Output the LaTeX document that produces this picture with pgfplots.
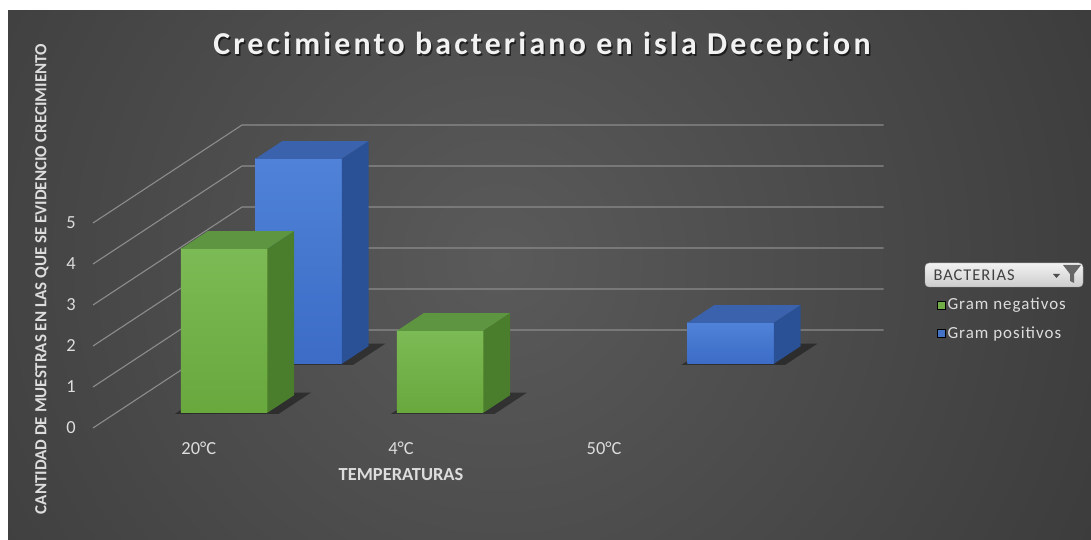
\documentclass[border=0pt]{standalone}
\usepackage{pgfplots}
\pgfplotsset{compat=1.18}
\usepackage{fontspec}
\setmainfont{Carlito}
\newfontfamily\titlefont[LetterSpace=10]{Carlito}
\newfontfamily\legfont[LetterSpace=6]{Carlito}
\definecolor{bgin}{HTML}{5A5A5A}
\definecolor{bgout}{HTML}{2A2A2A}
\definecolor{gridc}{HTML}{8C8C8C}
\definecolor{txtc}{HTML}{DDDDDD}
\definecolor{gfront1}{HTML}{7CBA55}
\definecolor{gfront2}{HTML}{68A83D}
\definecolor{gtop}{HTML}{5E9540}
\definecolor{gside}{HTML}{4B7E2C}
\definecolor{bfront1}{HTML}{4F82D8}
\definecolor{bfront2}{HTML}{3C6CC6}
\definecolor{btop}{HTML}{3B63AD}
\definecolor{bside}{HTML}{2A5096}
\definecolor{gleg}{HTML}{70AD47}
\definecolor{bleg}{HTML}{4472C4}
\begin{document}
\begin{tikzpicture}
\path[use as bounding box] (0,0) rectangle (1091bp,540bp);
\fill[white] (0,0) rectangle (1091bp,540bp);
\begin{scope}
\clip (8bp,0) rectangle (1091bp,529bp);
\fill[bgout] (8bp,0) rectangle (1091bp,529bp);
\shade[inner color=bgin, outer color=bgout] (500bp,280bp) circle (1050bp);
\end{scope}
% title
\node[text=black, opacity=0.6, font=\titlefont\bfseries\fontsize{32}{36}\selectfont] at (543.5bp,492.5bp) {Crecimiento bacteriano en isla Decepcion};
\node[text=white!95!black, font=\titlefont\bfseries\fontsize{32}{36}\selectfont] at (542bp,494bp) {Crecimiento bacteriano en isla Decepcion};
% y label
\node[rotate=90, text=txtc, font=\bfseries\fontsize{17}{20}\selectfont] at (42bp,261bp) {CANTIDAD DE MUESTRAS EN LAS QUE SE EVIDENCIO CRECIMIENTO};
\begin{axis}[
  at={(93bp,112bp)}, anchor=origin,
  x={(216bp,0bp)}, y={(149bp,98bp)}, z={(0bp,41bp)},
  xmin=0, xmax=3, ymin=0, ymax=1, zmin=0, zmax=5,
  hide axis, clip=false,
  legend style={at={(axis cs:3.907,0,3.22)}, anchor=north west, draw=none, fill=none,
    text=txtc, font=\legfont\fontsize{17}{19}\selectfont, row sep=11bp, inner sep=0pt,
    /tikz/every even column/.append style={column sep=4bp}},
  legend cell align=left,
  legend image code/.code={\fill[#1] (0bp,-4bp) rectangle (8bp,4bp);},
]
% gridlines: side wall and back wall
\addplot3[gridc, line width=1.1bp, forget plot] coordinates {(0,0,0) (0,1,0) (2.97,1,0)};
\addplot3[gridc, line width=1.1bp, forget plot] coordinates {(0,0,1) (0,1,1) (2.97,1,1)};
\addplot3[gridc, line width=1.1bp, forget plot] coordinates {(0,0,2) (0,1,2) (2.97,1,2)};
\addplot3[gridc, line width=1.1bp, forget plot] coordinates {(0,0,3) (0,1,3) (2.97,1,3)};
\addplot3[gridc, line width=1.1bp, forget plot] coordinates {(0,0,4) (0,1,4) (2.97,1,4)};
\addplot3[gridc, line width=1.1bp, forget plot] coordinates {(0,0,5) (0,1,5) (2.97,1,5)};
% ---- back row: Gram positivos (20C = 5, 4C = 0, 50C = 1)
\addplot3[draw=none, fill=black, fill opacity=0.4, forget plot] coordinates {(0.28,0.645,0) (0.76,0.645,0) (0.76,0.86,0) (0.28,0.86,0)} -- cycle;
\addplot3[draw=none, fill=black, fill opacity=0.4, forget plot] coordinates {(2.28,0.645,0) (2.76,0.645,0) (2.76,0.86,0) (2.28,0.86,0)} -- cycle;
% bar 20C, value 5
\addplot3[draw=none, top color=bfront1, bottom color=bfront2, forget plot] coordinates {(0.3,0.655,0) (0.7,0.655,0) (0.7,0.655,5) (0.3,0.655,5)} -- cycle;
\addplot3[draw=none, fill=btop, forget plot] coordinates {(0.3,0.655,5) (0.7,0.655,5) (0.7,0.835,5) (0.3,0.835,5)} -- cycle;
\addplot3[draw=none, fill=bside, forget plot] coordinates {(0.7,0.655,0) (0.7,0.835,0) (0.7,0.835,5) (0.7,0.655,5)} -- cycle;
% bar 50C, value 1
\addplot3[draw=none, top color=bfront1, bottom color=bfront2, forget plot] coordinates {(2.3,0.655,0) (2.7,0.655,0) (2.7,0.655,1) (2.3,0.655,1)} -- cycle;
\addplot3[draw=none, fill=btop, forget plot] coordinates {(2.3,0.655,1) (2.7,0.655,1) (2.7,0.835,1) (2.3,0.835,1)} -- cycle;
\addplot3[draw=none, fill=bside, forget plot] coordinates {(2.7,0.655,0) (2.7,0.835,0) (2.7,0.835,1) (2.7,0.655,1)} -- cycle;
% ---- front row: Gram negativos (20C = 4, 4C = 2, 50C = 0)
\addplot3[draw=none, fill=black, fill opacity=0.4, forget plot] coordinates {(0.28,0.145,0) (0.76,0.145,0) (0.76,0.36,0) (0.28,0.36,0)} -- cycle;
\addplot3[draw=none, fill=black, fill opacity=0.4, forget plot] coordinates {(1.28,0.145,0) (1.76,0.145,0) (1.76,0.36,0) (1.28,0.36,0)} -- cycle;
% bar 20C, value 4
\addplot3[draw=none, top color=gfront1, bottom color=gfront2, forget plot] coordinates {(0.3,0.155,0) (0.7,0.155,0) (0.7,0.155,4) (0.3,0.155,4)} -- cycle;
\addplot3[draw=none, fill=gtop, forget plot] coordinates {(0.3,0.155,4) (0.7,0.155,4) (0.7,0.335,4) (0.3,0.335,4)} -- cycle;
\addplot3[draw=none, fill=gside, forget plot] coordinates {(0.7,0.155,0) (0.7,0.335,0) (0.7,0.335,4) (0.7,0.155,4)} -- cycle;
% bar 4C, value 2
\addplot3[draw=none, top color=gfront1, bottom color=gfront2, forget plot] coordinates {(1.3,0.155,0) (1.7,0.155,0) (1.7,0.155,2) (1.3,0.155,2)} -- cycle;
\addplot3[draw=none, fill=gtop, forget plot] coordinates {(1.3,0.155,2) (1.7,0.155,2) (1.7,0.335,2) (1.3,0.335,2)} -- cycle;
\addplot3[draw=none, fill=gside, forget plot] coordinates {(1.7,0.155,0) (1.7,0.335,0) (1.7,0.335,2) (1.7,0.155,2)} -- cycle;
% legend
\addlegendimage{fill=gleg}
\addlegendentry{Gram negativos}
\addlegendimage{fill=bleg}
\addlegendentry{Gram positivos}
% value tick labels
\pgfplotsinvokeforeach{0,...,5}{
  \node[text=txtc, font=\fontsize{18.5}{20}\selectfont, anchor=center, xshift=-22bp] at (axis cs:0,0,#1) {#1};
}
% category labels
\node[text=txtc, font=\fontsize{18.5}{20}\selectfont, yshift=-20bp] at (axis cs:0.49,0,0) {20°C};
\node[text=txtc, font=\fontsize{18.5}{20}\selectfont, yshift=-20bp] at (axis cs:1.426,0,0) {4°C};
\node[text=txtc, font=\fontsize{18.5}{20}\selectfont, yshift=-20bp] at (axis cs:2.366,0,0) {50°C};
\node[text=txtc, font=\bfseries\fontsize{18.5}{20}\selectfont, yshift=-47bp] at (axis cs:1.426,0,0) {TEMPERATURAS};
\end{axis}
% legend header box
\draw[rounded corners=4bp, top color=white!95!black, bottom color=white!80!black, draw=gray!70] (925bp,253bp) rectangle (1083bp,277bp);
\node[anchor=west, text=black!75, font=\legfont\fontsize{16.5}{18}\selectfont] at (930bp,265bp) {BACTERIAS};
\fill[black!60] (1063bp,275bp) -- (1081bp,275bp) -- (1074bp,266bp) -- (1074bp,257bp) -- (1070bp,259bp) -- (1070bp,266bp) -- cycle;
\fill[black!70] (1053bp,266bp) -- (1060bp,266bp) -- (1056.5bp,262bp) -- cycle;
\end{tikzpicture}
\end{document}
